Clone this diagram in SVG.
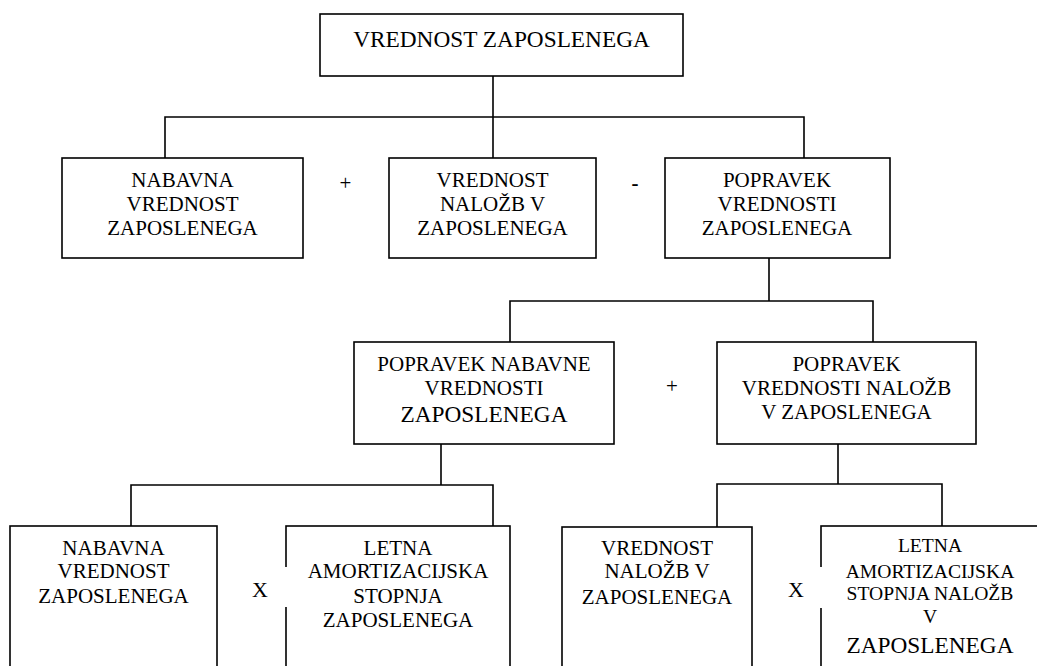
<svg xmlns="http://www.w3.org/2000/svg" width="1037" height="666" viewBox="0 0 1037 666">
<style>
.box{fill:#fff;stroke:#000;stroke-width:1.6}
.ln{fill:none;stroke:#000;stroke-width:1.6}
</style>
<rect width="1037" height="666" fill="#fff"/>
<g id="connectors">
<path class="ln" d="M493,76V158M165,158V117H804V158"/>
<path class="ln" d="M769,258V301M510,342V301H873V342"/>
<path class="ln" d="M441,444V485M131,526V485H493V526"/>
<path class="ln" d="M838,444V484M717,527V484H942V527"/>
</g>
<g id="labels" font-family="Liberation Serif" font-size="21" text-anchor="middle" fill="#000">
<g id="n-root">
<rect class="box" x="320" y="14" width="363" height="62"/>
<text font-size="23.3" x="501.5" y="47">VREDNOST ZAPOSLENEGA</text>
</g>
<g id="n-nabavna">
<rect class="box" x="62" y="158" width="241" height="100"/>
<text x="182.5" y="187">NABAVNA</text>
<text x="182.5" y="211">VREDNOST</text>
<text x="182.5" y="235">ZAPOSLENEGA</text>
</g>
<g id="n-nalozbe">
<rect class="box" x="389" y="158" width="207" height="100"/>
<text x="492.5" y="187">VREDNOST</text>
<text x="492.5" y="211">NALOŽB V</text>
<text x="492.5" y="235">ZAPOSLENEGA</text>
</g>
<g id="n-popravek">
<rect class="box" x="665" y="158" width="225" height="100"/>
<text x="777" y="187">POPRAVEK</text>
<text x="777" y="211">VREDNOSTI</text>
<text x="777" y="235">ZAPOSLENEGA</text>
</g>
<g id="ops-row2">
<text x="345.5" y="190">+</text>
<text x="635" y="190" font-weight="bold">-</text>
</g>
<g id="n-popravek-nabavne">
<rect class="box" x="354" y="342" width="260" height="102"/>
<text x="484" y="371">POPRAVEK NABAVNE</text>
<text x="484" y="395">VREDNOSTI</text>
<text font-size="23.3" x="484" y="422">ZAPOSLENEGA</text>
</g>
<g id="n-popravek-nalozb">
<rect class="box" x="717" y="342" width="259" height="102"/>
<text x="846.5" y="371">POPRAVEK</text>
<text x="846.5" y="395">VREDNOSTI NALOŽB</text>
<text x="846.5" y="419">V ZAPOSLENEGA</text>
</g>
<g id="op-row3">
<text x="672" y="393">+</text>
</g>
<g id="n-nabavna2">
<rect class="box" x="10" y="526" width="207" height="150"/>
<text x="113.5" y="555">NABAVNA</text>
<text x="113.5" y="578">VREDNOST</text>
<text x="113.5" y="603">ZAPOSLENEGA</text>
</g>
<g id="n-letna">
<rect class="box" x="286" y="526" width="224" height="150"/>
<text x="398" y="555">LETNA</text>
<text x="398" y="578">AMORTIZACIJSKA</text>
<text x="398" y="603">STOPNJA</text>
<text x="398" y="627">ZAPOSLENEGA</text>
</g>
<g id="n-nalozbe2">
<rect class="box" x="562" y="527" width="190" height="150"/>
<text x="657" y="555">VREDNOST</text>
<text x="657" y="578">NALOŽB V</text>
<text x="657" y="604">ZAPOSLENEGA</text>
</g>
<g id="n-letna-nalozb">
<rect class="box" x="821" y="526" width="218" height="150"/>
<text font-size="19.6" x="930" y="552">LETNA</text>
<text font-size="19.6" x="930" y="578">AMORTIZACIJSKA</text>
<text font-size="19.6" x="930" y="600">STOPNJA NALOŽB</text>
<text font-size="19.6" x="930" y="623">V</text>
<text font-size="23.3" x="930" y="653">ZAPOSLENEGA</text>
</g>
<g id="ops-row4">
<rect x="240" y="567" width="47.5" height="40" fill="#fff"/>
<text font-size="22" x="260" y="597">X</text>
<rect x="775" y="567" width="47.5" height="41" fill="#fff"/>
<text font-size="22" x="796" y="597">X</text>
</g>
</g>
</svg>
